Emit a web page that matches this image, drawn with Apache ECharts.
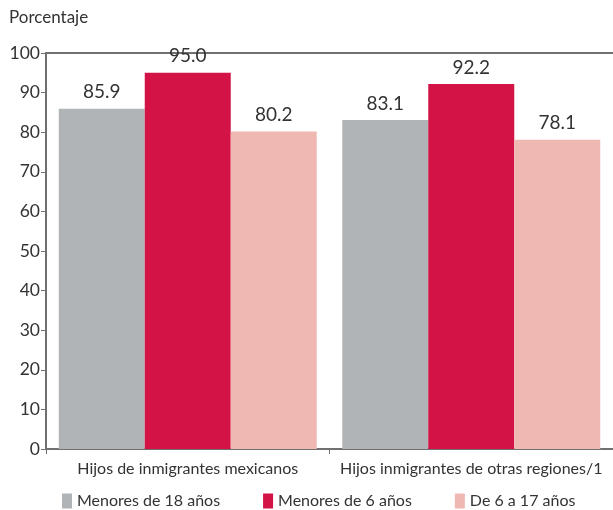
<!DOCTYPE html>
<html>
<head>
<meta charset="utf-8">
<script src="https://cdn.jsdelivr.net/npm/echarts@6/dist/echarts.min.js"></script>
<style>
  html, body { margin: 0; padding: 0; background: #fff; }
  #chart { width: 613px; height: 510px; }
</style>
</head>
<body>
<div id="chart"></div>
<script>
// Share of children by origin group (percent)
const categories = ['Hijos de inmigrantes mexicanos', 'Hijos inmigrantes de otras regiones/1'];
const seriesNames = ['Menores de 18 años', 'Menores de 6 años', 'De 6 a 17 años'];
const menores18 = [85.9, 83.1];
const menores6 = [95.0, 92.2];
const de6a17 = [80.2, 78.1];
const colors = ['#b1b4b6', '#d31245', '#efb8b3'];

const FONT = 'Lato';
const GRID_TOP = 53;
const chart = echarts.init(document.getElementById('chart'));

const valueSets = [menores18, menores6, de6a17];
const series = valueSets.map((vals, i) => ({
  name: seriesNames[i],
  type: 'bar',
  data: vals,
  barGap: '0%',
  barCategoryGap: '9%',
  itemStyle: { color: colors[i] },
  label: {
    show: true,
    position: 'top',
    distance: 7,
    formatter: p => p.value.toFixed(1),
    color: '#333',
    fontFamily: FONT,
    fontSize: 19
  },
  // keep value labels below the top frame line
  labelLayout: params => {
    const overlap = GRID_TOP + 1 - params.rect.y;
    return overlap > 0 ? { dy: overlap } : {};
  }
}));

chart.setOption({
  animation: false,
  textStyle: { fontFamily: FONT },
  title: {
    text: 'Porcentaje',
    left: 9,
    top: 9,
    padding: 0,
    textStyle: { fontFamily: FONT, fontSize: 17, fontWeight: 'normal', color: '#333' }
  },
  grid: { left: 46, right: 0, top: GRID_TOP, bottom: 61 },
  legend: {
    bottom: 1,
    left: 62,
    padding: 0,
    itemGap: 43,
    itemWidth: 10,
    itemHeight: 15,
    icon: 'rect',
    textStyle: { fontFamily: FONT, fontSize: 16, color: '#333' },
    data: seriesNames
  },
  xAxis: [
    {
      type: 'category',
      data: categories,
      axisLine: { lineStyle: { color: '#707070', width: 2 } },
      axisTick: { show: true, length: 5, lineStyle: { color: '#707070' } },
      axisLabel: { color: '#333', fontSize: 16, fontFamily: FONT, margin: 12, interval: 0 }
    },
    {
      type: 'category',
      position: 'top',
      data: categories,
      axisLine: { lineStyle: { color: '#707070', width: 2 } },
      axisTick: { show: false },
      axisLabel: { show: false }
    }
  ],
  yAxis: {
    type: 'value',
    min: 0,
    max: 100,
    interval: 10,
    axisLine: { show: true, lineStyle: { color: '#707070', width: 2 } },
    axisTick: { show: true, length: 5, lineStyle: { color: '#707070' } },
    splitLine: { show: false },
    axisLabel: { color: '#333', fontSize: 17.5, fontFamily: FONT, margin: 6 }
  },
  series: series
});
</script>
</body>
</html>
